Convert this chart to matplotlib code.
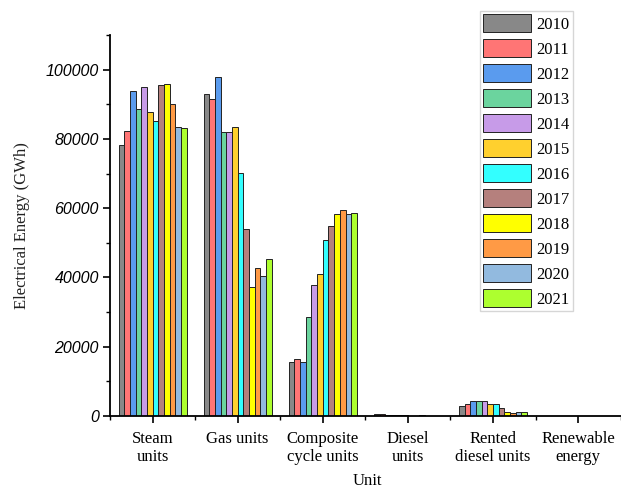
import matplotlib
matplotlib.use("Agg")
import matplotlib.pyplot as plt
import numpy as np
from matplotlib.ticker import MultipleLocator, FixedLocator

categories = ["Steam\nunits", "Gas units", "Composite\ncycle units", "Diesel\nunits",
              "Rented\ndiesel units", "Renewable\nenergy"]
years = ["2010", "2011", "2012", "2013", "2014", "2015", "2016", "2017", "2018", "2019", "2020", "2021"]

steam = [78200, 82300, 93700, 88600, 95100, 87800, 85200, 95600, 95800, 90100, 83500, 83100]
gas = [93000, 91600, 97800, 81900, 82000, 83500, 70300, 54100, 37200, 42600, 40400, 45300]
composite = [15500, 16400, 15600, 28600, 37700, 40900, 50700, 55000, 58200, 59400, 58300, 58600]
diesel = [500, 450, 420, 380, 200, 150, 100, 120, 150, 100, 130, 120]
rented = [2800, 3550, 4350, 4350, 4350, 3450, 3350, 2200, 1050, 850, 1250, 1050]
renewable = [0, 0, 0, 0, 0, 0, 0, 0, 0, 0, 0, 0]

colors = ["#888888", "#FF7575", "#5A9BEE", "#6BD49E", "#C79BE8", "#FFD02E",
          "#33FFFF", "#B5807D", "#FFFF00", "#FF9A45", "#92BADF", "#ADFF2F"]

data = np.array([steam, gas, composite, diesel, rented, renewable])  # shape (cat, year)

fig = plt.figure(figsize=(6.21, 4.90), dpi=100)
ax = fig.add_axes([110/621, 1-416/490, (625-110)/621, (416-35)/490])

n = len(years)
group_w = 0.8
bw = group_w / n
x = np.arange(len(categories))
for i, y in enumerate(years):
    ax.bar(x - group_w/2 + bw*(i+0.5), data[:, i], width=bw, color=colors[i],
           edgecolor="#222222", linewidth=0.7, label=y)

ax.set_xlim(-0.5, 5.55)
ax.set_ylim(0, 110000)
ax.yaxis.set_major_locator(MultipleLocator(20000))
ax.yaxis.set_minor_locator(MultipleLocator(10000))
ax.set_xticks(x)
ax.set_xticklabels(categories, family="Liberation Serif", fontsize=12, linespacing=1.15)
ax.xaxis.set_minor_locator(FixedLocator(np.arange(-0.5, 6, 1.0)))

for lab in ax.get_yticklabels():
    lab.set_family("Liberation Sans")
    lab.set_style("italic")
    lab.set_fontsize(11.5)

ax.tick_params(axis="both", which="major", direction="out", length=5, width=1.2)
ax.tick_params(axis="both", which="minor", direction="out", length=3, width=1.0)
ax.tick_params(axis="x", which="major", pad=6)
ax.tick_params(axis="y", which="major", pad=3)

for s in ["top", "right"]:
    ax.spines[s].set_visible(False)
for s in ["left", "bottom"]:
    ax.spines[s].set_linewidth(1.3)

ax.set_ylabel("Electrical Energy (GWh)", family="Liberation Serif", fontsize=12, color="#222222")
ax.yaxis.set_label_coords(-80/515, 0.5)
ax.set_xlabel("Unit", family="Liberation Serif", fontsize=12, labelpad=6)

leg = ax.legend(loc="upper left", bbox_to_anchor=(480/621, 1-11/490), bbox_transform=fig.transFigure,
                prop={"family": "Liberation Serif", "size": 12}, frameon=True, fancybox=False,
                handlelength=2.85, handleheight=1.3, labelspacing=0.38, handletextpad=0.35,
                borderpad=0.2, borderaxespad=0)
leg.get_frame().set_edgecolor("#cccccc")
leg.get_frame().set_linewidth(1.0)

fig.savefig("out.png", dpi=100)
